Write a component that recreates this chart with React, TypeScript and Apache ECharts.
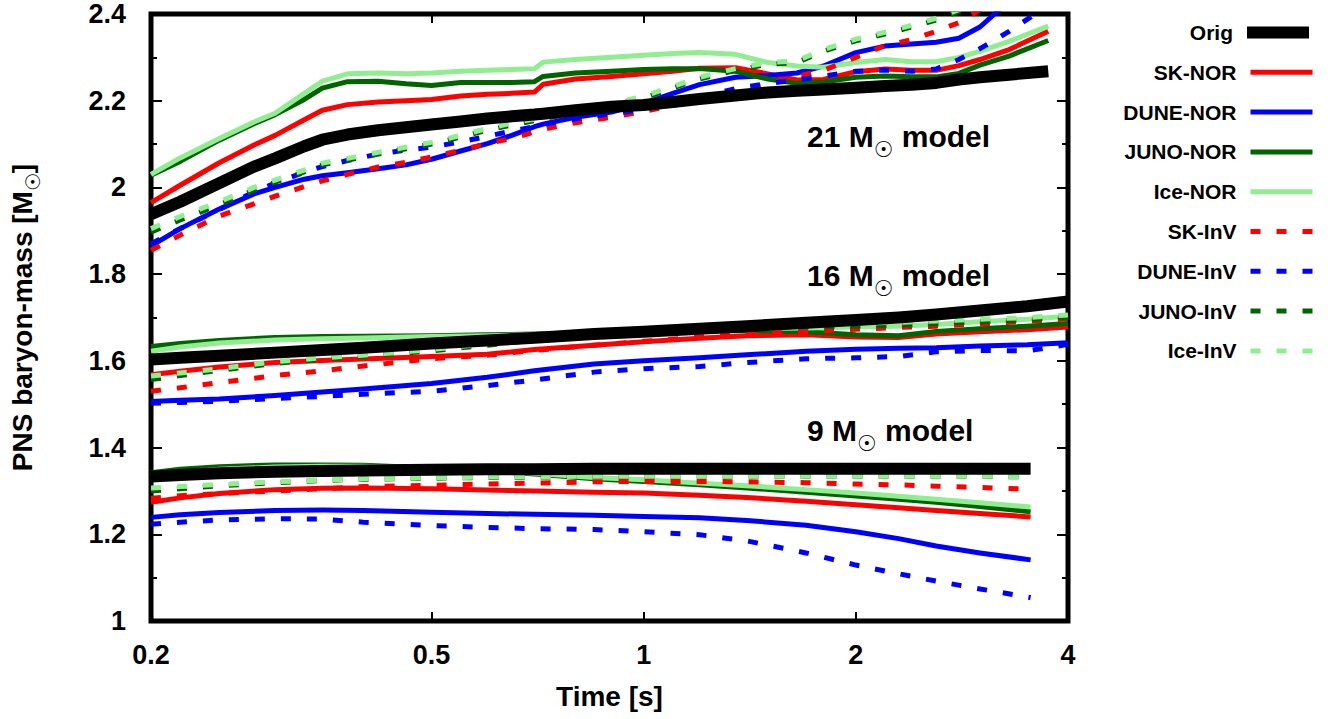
import React, { useEffect, useRef } from 'react';
import * as echarts from 'echarts';

// ---------- data (time in s, PNS baryon mass in Msun) ----------
const T21 = [0.2, 0.22, 0.25, 0.28, 0.3, 0.33, 0.35, 0.38, 0.42, 0.46, 0.5, 0.55, 0.6, 0.65, 0.7, 0.72, 0.8, 0.9, 1.0, 1.1, 1.2, 1.35, 1.5, 1.65, 1.8, 2.0, 2.2, 2.4, 2.6, 2.8, 3.0, 3.3, 3.75];
const ORIG21 = [1.938, 1.967, 2.01, 2.048, 2.067, 2.095, 2.11, 2.122, 2.132, 2.139, 2.145, 2.152, 2.159, 2.164, 2.168, 2.17, 2.178, 2.186, 2.19, 2.197, 2.204, 2.212, 2.219, 2.223, 2.226, 2.23, 2.234, 2.237, 2.241, 2.249, 2.254, 2.26, 2.268];
const SKNOR21 = [1.965, 2.005, 2.057, 2.098, 2.12, 2.156, 2.178, 2.191, 2.197, 2.2, 2.203, 2.211, 2.215, 2.217, 2.22, 2.238, 2.25, 2.256, 2.262, 2.268, 2.275, 2.276, 2.262, 2.248, 2.249, 2.267, 2.273, 2.27, 2.27, 2.281, 2.295, 2.318, 2.36];
const DUNENOR21 = [1.865, 1.905, 1.95, 1.985, 2.0, 2.019, 2.027, 2.034, 2.043, 2.052, 2.065, 2.084, 2.101, 2.12, 2.14, 2.146, 2.162, 2.174, 2.194, 2.217, 2.237, 2.254, 2.258, 2.264, 2.28, 2.311, 2.326, 2.331, 2.335, 2.344, 2.37, 2.43, 2.5];
const JUNONOR21 = [2.028, 2.06, 2.109, 2.147, 2.168, 2.203, 2.229, 2.244, 2.245, 2.239, 2.235, 2.242, 2.242, 2.242, 2.244, 2.256, 2.264, 2.268, 2.272, 2.274, 2.274, 2.268, 2.25, 2.24, 2.243, 2.254, 2.257, 2.255, 2.255, 2.263, 2.282, 2.303, 2.339];
const ICENOR21 = [2.03, 2.068, 2.113, 2.151, 2.171, 2.217, 2.245, 2.262, 2.264, 2.262, 2.264, 2.268, 2.27, 2.272, 2.274, 2.289, 2.295, 2.3, 2.305, 2.309, 2.311, 2.307, 2.288, 2.28, 2.277, 2.288, 2.295, 2.29, 2.29, 2.3, 2.314, 2.337, 2.372];
const SKINV21 = [1.855, 1.89, 1.934, 1.962, 1.98, 2.002, 2.015, 2.03, 2.047, 2.058, 2.07, 2.086, 2.101, 2.113, 2.128, 2.134, 2.149, 2.162, 2.175, 2.189, 2.204, 2.222, 2.238, 2.256, 2.27, 2.3, 2.327, 2.341, 2.36, 2.38, 2.41, 2.45, 2.5];
const DUNEINV21 = [1.87, 1.905, 1.949, 1.99, 2.01, 2.035, 2.048, 2.062, 2.077, 2.086, 2.093, 2.105, 2.118, 2.13, 2.14, 2.145, 2.158, 2.17, 2.18, 2.195, 2.208, 2.228, 2.24, 2.248, 2.257, 2.268, 2.271, 2.268, 2.273, 2.295, 2.32, 2.36, 2.42];
const JUNOINV21 = [1.897, 1.925, 1.96, 1.994, 2.012, 2.036, 2.052, 2.063, 2.077, 2.089, 2.1, 2.116, 2.132, 2.144, 2.154, 2.158, 2.173, 2.19, 2.206, 2.229, 2.25, 2.27, 2.284, 2.288, 2.314, 2.338, 2.354, 2.37, 2.386, 2.406, 2.426, 2.456, 2.5];
const ICEINV21 = [1.905, 1.933, 1.967, 2.0, 2.017, 2.04, 2.056, 2.067, 2.081, 2.093, 2.104, 2.12, 2.136, 2.148, 2.158, 2.162, 2.177, 2.194, 2.21, 2.233, 2.254, 2.274, 2.288, 2.292, 2.318, 2.342, 2.358, 2.374, 2.39, 2.41, 2.43, 2.46, 2.5];

const T16 = [0.2, 0.22, 0.25, 0.3, 0.35, 0.4, 0.5, 0.6, 0.7, 0.85, 1.0, 1.2, 1.4, 1.7, 2.0, 2.3, 2.6, 3.0, 3.5, 4.0];
const ORIG16 = [1.603, 1.607, 1.612, 1.619, 1.625, 1.63, 1.64, 1.647, 1.653, 1.662, 1.667, 1.674, 1.68, 1.688, 1.694, 1.7, 1.707, 1.716, 1.726, 1.737];
const SKNOR16 = [1.568, 1.576, 1.586, 1.596, 1.601, 1.604, 1.61, 1.615, 1.626, 1.636, 1.644, 1.652, 1.658, 1.66, 1.655, 1.654, 1.662, 1.667, 1.672, 1.678];
const DUNENOR16 = [1.506, 1.509, 1.512, 1.52, 1.528, 1.535, 1.548, 1.562, 1.577, 1.593, 1.6, 1.607, 1.614, 1.622, 1.627, 1.629, 1.63, 1.634, 1.637, 1.642];
const JUNONOR16 = [1.633, 1.64, 1.647, 1.654, 1.656, 1.657, 1.658, 1.66, 1.662, 1.665, 1.667, 1.669, 1.67, 1.667, 1.66, 1.658, 1.668, 1.674, 1.68, 1.686];
const ICENOR16 = [1.622, 1.632, 1.641, 1.648, 1.651, 1.653, 1.656, 1.658, 1.66, 1.664, 1.667, 1.671, 1.674, 1.676, 1.678, 1.68, 1.684, 1.69, 1.696, 1.703];
const SKINV16 = [1.53, 1.538, 1.55, 1.566, 1.577, 1.588, 1.605, 1.613, 1.624, 1.636, 1.645, 1.655, 1.662, 1.667, 1.673, 1.677, 1.68, 1.685, 1.691, 1.697];
const DUNEINV16 = [1.502, 1.504, 1.507, 1.513, 1.518, 1.523, 1.53, 1.543, 1.556, 1.574, 1.582, 1.587, 1.596, 1.605, 1.607, 1.61, 1.621, 1.624, 1.623, 1.638];
const JUNOINV16 = [1.557, 1.566, 1.578, 1.594, 1.604, 1.61, 1.623, 1.636, 1.648, 1.66, 1.668, 1.673, 1.676, 1.678, 1.68, 1.682, 1.686, 1.69, 1.695, 1.7];
const ICEINV16 = [1.565, 1.572, 1.582, 1.598, 1.607, 1.613, 1.626, 1.64, 1.652, 1.665, 1.674, 1.68, 1.683, 1.685, 1.687, 1.689, 1.692, 1.696, 1.7, 1.706];

const T9 = [0.2, 0.22, 0.25, 0.3, 0.35, 0.4, 0.5, 0.6, 0.7, 0.85, 1.0, 1.2, 1.4, 1.7, 2.0, 2.3, 2.6, 3.0, 3.54];
const ORIG9 = [1.333, 1.337, 1.341, 1.344, 1.346, 1.347, 1.349, 1.35, 1.35, 1.351, 1.351, 1.351, 1.351, 1.351, 1.351, 1.351, 1.351, 1.351, 1.351];
const SKNOR9 = [1.274, 1.284, 1.294, 1.303, 1.306, 1.307, 1.305, 1.302, 1.3, 1.297, 1.295, 1.29, 1.285, 1.276, 1.268, 1.261, 1.255, 1.248, 1.24];
const DUNENOR9 = [1.239, 1.245, 1.25, 1.255, 1.256, 1.255, 1.251, 1.248, 1.246, 1.244, 1.241, 1.238, 1.232, 1.221, 1.206, 1.19, 1.173, 1.157, 1.141];
const JUNONOR9 = [1.342, 1.35, 1.356, 1.36, 1.36, 1.359, 1.353, 1.346, 1.339, 1.328, 1.322, 1.314, 1.307, 1.297, 1.288, 1.281, 1.274, 1.264, 1.252];
const ICENOR9 = [1.335, 1.342, 1.35, 1.355, 1.357, 1.357, 1.353, 1.347, 1.341, 1.331, 1.326, 1.318, 1.312, 1.303, 1.295, 1.288, 1.281, 1.273, 1.263];
const SKINV9 = [1.283, 1.289, 1.294, 1.3, 1.305, 1.31, 1.313, 1.316, 1.318, 1.321, 1.322, 1.322, 1.321, 1.319, 1.316, 1.314, 1.311, 1.308, 1.304];
const DUNEINV9 = [1.223, 1.228, 1.233, 1.236, 1.235, 1.228, 1.22, 1.216, 1.213, 1.211, 1.206, 1.199, 1.185, 1.157, 1.129, 1.109, 1.092, 1.074, 1.054];
const JUNOINV9 = [1.3, 1.305, 1.312, 1.319, 1.324, 1.327, 1.329, 1.331, 1.332, 1.333, 1.333, 1.334, 1.334, 1.334, 1.334, 1.334, 1.334, 1.334, 1.332];
const ICEINV9 = [1.307, 1.31, 1.315, 1.321, 1.325, 1.328, 1.33, 1.332, 1.333, 1.334, 1.334, 1.334, 1.334, 1.334, 1.334, 1.334, 1.334, 1.334, 1.333];

const X_TICKS = [0.5, 1, 2];
const X_LABELS = [0.2, 0.5, 1, 2, 4];
const NAMES = ['Orig', 'SK-NOR', 'DUNE-NOR', 'JUNO-NOR', 'Ice-NOR', 'SK-InV', 'DUNE-InV', 'JUNO-InV', 'Ice-InV'];
const COLORS = ['#000000', '#ff0000', '#0000ff', '#006400', '#90ee90', '#ff0000', '#0000ff', '#006400', '#90ee90'];
const DASHED = [false, false, false, false, false, true, true, true, true];
const WIDTHS = [12, 5, 5, 5, 5, 5, 5, 5, 5];
const MODEL_T = [T21, T16, T9];
const VALUES: Record<string, number[][]> = {
  'Orig': [ORIG21, ORIG16, ORIG9],
  'SK-NOR': [SKNOR21, SKNOR16, SKNOR9],
  'DUNE-NOR': [DUNENOR21, DUNENOR16, DUNENOR9],
  'JUNO-NOR': [JUNONOR21, JUNONOR16, JUNONOR9],
  'Ice-NOR': [ICENOR21, ICENOR16, ICENOR9],
  'SK-InV': [SKINV21, SKINV16, SKINV9],
  'DUNE-InV': [DUNEINV21, DUNEINV16, DUNEINV9],
  'JUNO-InV': [JUNOINV21, JUNOINV16, JUNOINV9],
  'Ice-InV': [ICEINV21, ICEINV16, ICEINV9],
};
const MODEL_LABELS = ['21', '16', '9'];

const FONT = '"Liberation Sans", Arial, Helvetica, sans-serif';

function buildOption() {
  const series: any[] = [];
  NAMES.forEach((name, i) => {
    VALUES[name].forEach((vals, m) => {
      series.push({
        type: 'line',
        name,
        data: MODEL_T[m].map((t, j) => [t, vals[j]]),
        symbol: 'none',
        showSymbol: false,
        smooth: false,
        clip: true,
        silent: true,
        z: name === 'Orig' ? 3 : 2,
        lineStyle: { color: COLORS[i], width: WIDTHS[i], type: DASHED[i] ? [10, 16] : 'solid', cap: 'butt', join: 'round' },
        itemStyle: { color: COLORS[i] },
        emphasis: { disabled: true },
      });
    });
  });

  const legends = NAMES.map((name, i) => ({
    data: [name],
    right: 26,
    top: 22 + i * 39.8,
    orient: 'vertical',
    align: 'right',
    padding: 0,
    itemGap: 0,
    itemWidth: 62,
    itemHeight: 14,
    selectedMode: false,
    textStyle: { fontSize: 21, fontWeight: 'bold', fontFamily: FONT, color: '#000', padding: [0, 9, 0, 0] },
    itemStyle: { opacity: 0, color: 'rgba(0,0,0,0)', borderWidth: 0 },
    lineStyle: { width: WIDTHS[i] },
  }));

  const annoRich = {
    a: { fontSize: 30, fontWeight: 'bold', fontFamily: FONT, color: '#000', verticalAlign: 'middle' },
    s: { fontSize: 22, fontFamily: '"DejaVu Sans", sans-serif', color: '#000', padding: [27, 0, 0, 0], verticalAlign: 'middle' },
  };
  const annoY = [136, 275, 430];
  const graphics = MODEL_LABELS.map((lbl, k) => ({
    type: 'text',
    x: 807,
    y: annoY[k],
    silent: true,
    style: {
      text: `{a|${lbl} M}{s|☉}{a| model}`,
      rich: annoRich,
      align: 'left',
      verticalAlign: 'middle',
    },
  }));

  const yTick = { show: true, inside: true, length: 11, lineStyle: { color: '#000', width: 2 } };
  const yMinor = { show: true, splitNumber: 2, length: 6, lineStyle: { color: '#000', width: 2 } };
  const xTick = { show: true, inside: true, length: 9, customValues: X_TICKS, lineStyle: { color: '#000', width: 2 } };
  const tickFont = { color: '#000', fontSize: 27, fontWeight: 'bold', fontFamily: FONT };

  return {
    animation: false,
    backgroundColor: '#ffffff',
    grid: { left: 146, right: 273, top: 14, bottom: 98, show: true, borderColor: '#000', borderWidth: 5, backgroundColor: 'transparent' },
    legend: legends,
    xAxis: [
      {
        type: 'log', logBase: 10, min: 0.2, max: 4, position: 'bottom',
        axisLine: { show: false }, splitLine: { show: false }, minorTick: { show: false },
        axisTick: xTick,
        axisLabel: {
          ...tickFont, margin: 20, customValues: X_LABELS, showMinLabel: true, showMaxLabel: true,
          formatter: (v: number) => String(Math.round(v * 10) / 10),
        },
        name: 'Time [s]', nameLocation: 'middle', nameGap: 61,
        nameTextStyle: { color: '#000', fontSize: 28, fontWeight: 'bold', fontFamily: FONT },
      },
      {
        type: 'log', logBase: 10, min: 0.2, max: 4, position: 'top',
        axisLine: { show: false }, splitLine: { show: false }, minorTick: { show: false },
        axisTick: xTick, axisLabel: { show: false },
      },
    ],
    yAxis: [
      {
        type: 'value', min: 1, max: 2.4, interval: 0.2, position: 'left',
        axisLine: { show: false }, splitLine: { show: false },
        axisTick: yTick, minorTick: yMinor,
        axisLabel: { ...tickFont, margin: 25, formatter: (v: number) => String(Math.round(v * 10) / 10) },
        name: '{a|PNS baryon-mass [M}{s|☉}{a|]}', nameLocation: 'middle', nameRotate: 90, nameGap: 108,
        nameTextStyle: {
          rich: {
            a: { fontSize: 28, fontWeight: 'bold', fontFamily: FONT, color: '#000', verticalAlign: 'middle' },
            s: { fontSize: 20, fontFamily: '"DejaVu Sans", sans-serif', color: '#000', padding: [22, 0, 0, 0], verticalAlign: 'middle' },
          },
        },
      },
      {
        type: 'value', min: 1, max: 2.4, interval: 0.2, position: 'right',
        axisLine: { show: false }, splitLine: { show: false },
        axisTick: yTick, minorTick: yMinor, axisLabel: { show: false },
      },
    ],
    graphic: graphics,
    series,
  };
}

export default function App() {
  const ref = useRef<HTMLDivElement>(null);
  useEffect(() => {
    if (!ref.current) return;
    const chart = echarts.init(ref.current, null, { renderer: 'svg' });
    chart.setOption(buildOption() as any);
    return () => chart.dispose();
  }, []);
  return (
    <div
      ref={ref}
      style={{ position: 'fixed', left: 0, top: 0, width: 1341, height: 719, background: '#fff' }}
    />
  );
}
